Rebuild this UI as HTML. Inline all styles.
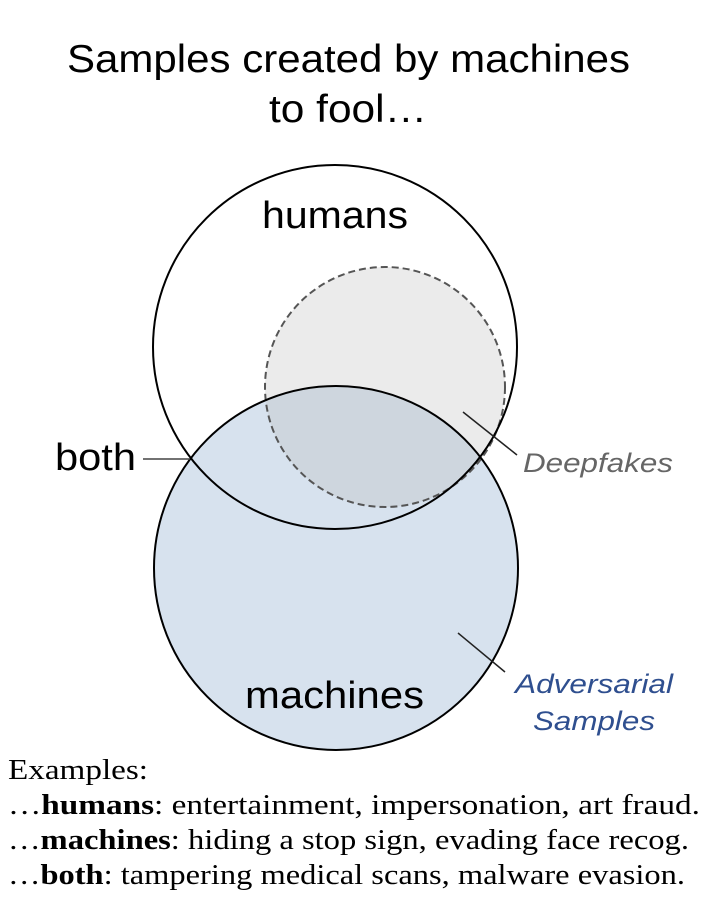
<!DOCTYPE html>
<html><head><meta charset="utf-8"><style>
html,body{margin:0;padding:0;background:#fff;}
svg{display:block;}
</style></head><body>
<svg width="720" height="899" viewBox="0 0 720 899" xmlns="http://www.w3.org/2000/svg">
<text x="67" y="72" font-family="Liberation Sans, sans-serif" font-size="39" textLength="563" lengthAdjust="spacingAndGlyphs" fill="#000">Samples created by machines</text>
<text x="269" y="122" font-family="Liberation Sans, sans-serif" font-size="39" textLength="158" lengthAdjust="spacingAndGlyphs" fill="#000">to fool…</text>
<circle cx="336" cy="568" r="182" fill="#d7e2ee" stroke="none"/>
<circle cx="385" cy="387" r="120" fill="rgb(180,180,180)" fill-opacity="0.27" stroke="#555" stroke-width="2" stroke-dasharray="7,4"/>
<circle cx="335" cy="347" r="182" fill="none" stroke="#000" stroke-width="2"/>
<circle cx="336" cy="568" r="182" fill="none" stroke="#000" stroke-width="2"/>
<text x="262" y="228" font-family="Liberation Sans, sans-serif" font-size="38" textLength="146" lengthAdjust="spacingAndGlyphs">humans</text>
<text x="245" y="708" font-family="Liberation Sans, sans-serif" font-size="38" textLength="179" lengthAdjust="spacingAndGlyphs">machines</text>
<text x="55" y="470" font-family="Liberation Sans, sans-serif" font-size="38" textLength="81" lengthAdjust="spacingAndGlyphs">both</text>
<line x1="143" y1="459" x2="190" y2="459" stroke="#444" stroke-width="1.5"/>
<line x1="463" y1="412" x2="517" y2="455" stroke="#222" stroke-width="1.5"/>
<line x1="458" y1="633" x2="505" y2="672" stroke="#222" stroke-width="1.5"/>
<text x="523" y="472" font-family="Liberation Sans, sans-serif" font-size="27" font-style="italic" fill="#666" textLength="150" lengthAdjust="spacingAndGlyphs">Deepfakes</text>
<text x="515" y="693" font-family="Liberation Sans, sans-serif" font-size="27" font-style="italic" fill="#2f4f8f" textLength="158" lengthAdjust="spacingAndGlyphs">Adversarial</text>
<text x="533" y="730" font-family="Liberation Sans, sans-serif" font-size="27" font-style="italic" fill="#2f4f8f" textLength="122" lengthAdjust="spacingAndGlyphs">Samples</text>
<g font-family="Liberation Serif, serif" font-size="29" fill="#000">
<text x="8" y="779" textLength="140" lengthAdjust="spacingAndGlyphs">Examples:</text>
<text x="8" y="814" textLength="692" lengthAdjust="spacingAndGlyphs">…<tspan font-weight="bold">humans</tspan>: entertainment, impersonation, art fraud.</text>
<text x="8" y="849" textLength="681" lengthAdjust="spacingAndGlyphs">…<tspan font-weight="bold">machines</tspan>: hiding a stop sign, evading face recog.</text>
<text x="8" y="884" textLength="677" lengthAdjust="spacingAndGlyphs">…<tspan font-weight="bold">both</tspan>: tampering medical scans, malware evasion.</text>
</g>
</svg>
</body></html>
